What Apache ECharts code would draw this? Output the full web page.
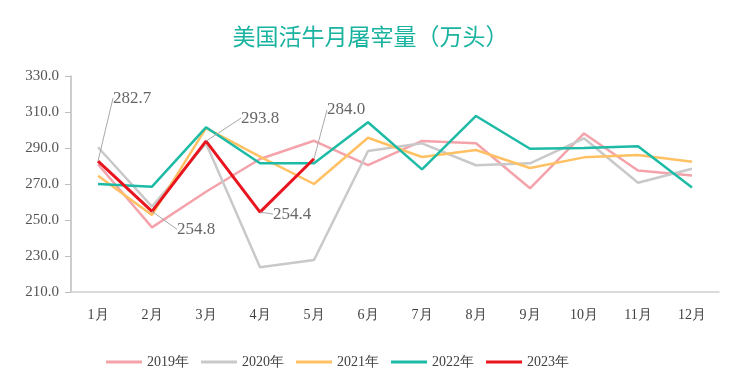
<!DOCTYPE html>
<html><head><meta charset="utf-8">
<script src="https://cdn.jsdelivr.net/npm/echarts@6/dist/echarts.min.js"></script>
<style>html,body{margin:0;padding:0;background:#fff}#c{width:741px;height:384px}</style>
</head><body><div id="c"></div>
<script>
const categories = ['1月','2月','3月','4月','5月','6月','7月','8月','9月','10月','11月','12月'];
const yTicks = [210, 230, 250, 270, 290, 310, 330];
const s2019 = [281, 245.9, 265.7, 283.9, 294, 280.5, 293.9, 292.6, 267.6, 298.1, 277.5, 274.7];
const s2020 = [290.4, 257.4, 292.6, 223.7, 227.8, 288.3, 292.6, 280.4, 281.5, 295.4, 270.7, 278.5];
const s2021 = [274.6, 252.8, 301, 285.2, 270, 295.7, 285, 288.9, 278.9, 284.8, 286.1, 282.4];
const s2022 = [270, 268.5, 301.5, 281.5, 281.5, 304.3, 278.1, 307.8, 289.6, 290, 291, 268.1];
const s2023 = [282.7, 254.8, 293.8, 254.4, 284.0];
const seriesNames = ['2019年','2020年','2021年','2022年','2023年'];
const colors = ['#F4A3AB','#C9C9C9','#FFC163','#1DBBA5','#E8141E'];

const chart = echarts.init(document.getElementById('c'));
const font = 'Liberation Serif';
const offsets = [[10,-63],[20,18],[30,-23],[8,2],[8,-49]];
function mk(name, data, i, z){
  return {name, type:'line', data, symbol:'none', z,
    lineStyle:{width: i===4?3:2.5, color: colors[i]}, itemStyle:{color: colors[i]}};
}
const annot = {type:'scatter', name:'annot', data:s2023, symbolSize:0, z:20, silent:true,
  itemStyle:{color:'rgba(0,0,0,0)'},
  label:{show:true, position:'right', fontFamily:font, fontSize:17, color:'#404040',
    formatter: p => p.value.toFixed(1)},
  labelLine:{show:true, lineStyle:{color:'#a8a8a8', width:1}},
  labelLayout: p => ({dx: offsets[p.dataIndex][0], dy: offsets[p.dataIndex][1]})
};

chart.setOption({
  animation:false,
  title:{text:'美国活牛月屠宰量（万头）', left:'center', top:20,
    textStyle:{fontFamily:'Noto Sans CJK SC', fontSize:23, fontWeight:'normal', color:'#19B3A0'}},
  color: colors,
  grid:{left:71, right:22, top:76, bottom:92},
  legend:{bottom:10, left:101, itemWidth:36, itemHeight:3, itemGap:12, icon:'rect',
    data: seriesNames,
    textStyle:{fontFamily:font, fontSize:14, color:'#404040'}},
  xAxis:{type:'category', data:categories, boundaryGap:true,
    axisLine:{lineStyle:{color:'#cfcfcf', width:1.5}}, axisTick:{show:false},
    axisLabel:{fontFamily:font, fontSize:14, color:'#404040', margin:16}},
  yAxis:{type:'value', min:yTicks[0], max:yTicks[yTicks.length-1], interval:20,
    axisLine:{show:true, lineStyle:{color:'#bdbdbd', width:1.5}},
    axisTick:{show:true, inside:false, length:6, lineStyle:{color:'#bdbdbd'}},
    splitLine:{show:false},
    axisLabel:{fontFamily:font, fontSize:15, color:'#555', margin:12, formatter: v => v.toFixed(1)}},
  series:[
    mk(seriesNames[0], s2019, 0, 2),
    mk(seriesNames[1], s2020, 1, 3),
    mk(seriesNames[2], s2021, 2, 4),
    mk(seriesNames[3], s2022, 3, 5),
    mk(seriesNames[4], s2023, 4, 10),
    annot
  ]
});
</script></body></html>
